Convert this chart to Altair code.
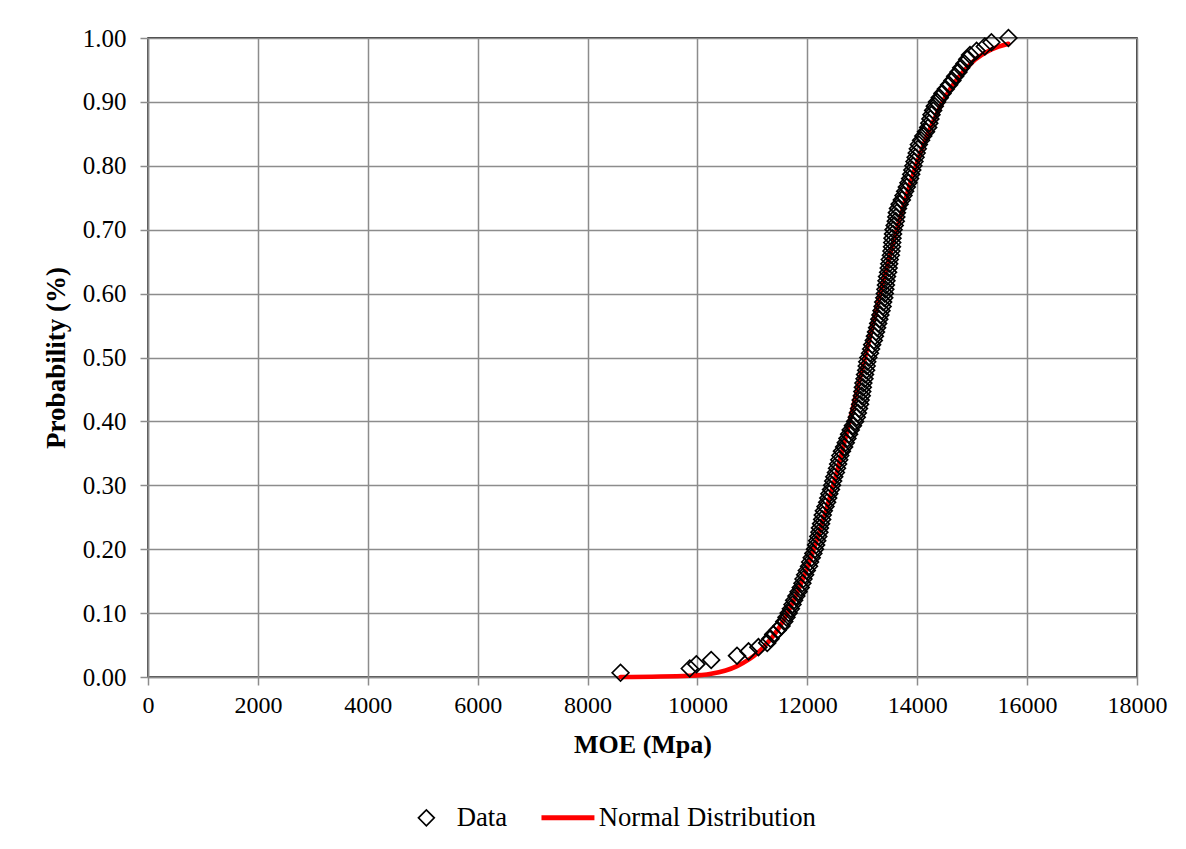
import altair as alt
import pandas as pd

# Empirical data points: MOE (Mpa) and cumulative probability (rank i/150)
moe_values = [
    8600, 9860, 9980, 10250, 10720, 10930, 11110, 11270, 11330, 11380,
    11460, 11530, 11580, 11620, 11660, 11700, 11730, 11760, 11800, 11840,
    11880, 11910, 11930, 11960, 11990, 12030, 12050, 12080, 12110, 12140,
    12160, 12180, 12200, 12220, 12230, 12250, 12270, 12280, 12300, 12330,
    12360, 12380, 12400, 12430, 12450, 12470, 12490, 12520, 12540, 12560,
    12580, 12600, 12630, 12670, 12700, 12730, 12760, 12790, 12830, 12870,
    12900, 12920, 12940, 12960, 12970, 12990, 13000, 13010, 13020, 13040,
    13050, 13070, 13080, 13090, 13110, 13140, 13160, 13180, 13210, 13230,
    13250, 13270, 13290, 13310, 13330, 13350, 13370, 13380, 13400, 13410,
    13420, 13430, 13440, 13450, 13470, 13480, 13490, 13500, 13520, 13530,
    13540, 13545, 13550, 13560, 13570, 13590, 13610, 13620, 13630, 13650,
    13680, 13720, 13750, 13780, 13810, 13840, 13870, 13890, 13910, 13930,
    13950, 13970, 13990, 14010, 14030, 14070, 14110, 14160, 14200, 14220,
    14240, 14260, 14290, 14320, 14360, 14410, 14460, 14520, 14580, 14640,
    14690, 14750, 14800, 14860, 14910, 14960, 15080, 15230, 15350, 15660,
]
ranks = list(range(1, 151))
n_points = 150

# Fitted normal distribution curve
norm_moe = [8600, 9860, 10250, 10720, 11110, 11500, 12000, 12500, 13000,
            13500, 14000, 14500, 15000, 15350, 15660]
norm_prob = [0.000, 0.002, 0.005, 0.017, 0.039, 0.079, 0.171, 0.309, 0.482,
             0.659, 0.806, 0.906, 0.962, 0.982, 0.991]

x_ticks = [0, 2000, 4000, 6000, 8000, 10000, 12000, 14000, 16000, 18000]
y_ticks = [0.0, 0.1, 0.2, 0.3, 0.4, 0.5, 0.6, 0.7, 0.8, 0.9, 1.0]
series_names = ["Data", "Normal Distribution"]

data_df = pd.DataFrame({
    "MOE": moe_values,
    "P": [r / n_points for r in ranks],
    "series": ["Data"] * len(moe_values),
})
norm_df = pd.DataFrame({"MOE": norm_moe, "P": norm_prob})

FONT = "Liberation Serif"

x_enc = alt.X(
    "MOE:Q",
    scale=alt.Scale(domain=[0, 18000], nice=False, zero=False),
    axis=alt.Axis(values=x_ticks, format="d", title="MOE (Mpa)",
                  labelFlush=False, labelFontSize=24),
)
y_enc = alt.Y(
    "P:Q",
    scale=alt.Scale(domain=[0, 1], nice=False),
    axis=alt.Axis(values=y_ticks, format=".2f", title="Probability (%)",
                  labelFlush=False, labelFontSize=25),
)

line = alt.Chart(norm_df).mark_line(
    color="#ff0000", strokeWidth=4.5, strokeCap="round", interpolate="monotone"
).encode(x=x_enc, y=y_enc)

points = alt.Chart(data_df).mark_point(filled=False, opacity=1).encode(
    x=x_enc,
    y=y_enc,
    shape=alt.Shape(
        "series:N",
        scale=alt.Scale(domain=series_names,
                        range=["diamond", "M-3.4,0L3.3,0"]),
        legend=alt.Legend(title=None),
    ),
    stroke=alt.Stroke(
        "series:N",
        scale=alt.Scale(domain=series_names, range=["#000000", "#ff0000"]),
        legend=alt.Legend(title=None),
    ),
    strokeWidth=alt.StrokeWidth(
        "series:N",
        scale=alt.Scale(domain=series_names, range=[1.7, 5]),
        legend=alt.Legend(title=None),
    ),
    size=alt.value(280),
)

chart = alt.layer(line, points).properties(
    width=989,
    height=639,
    autosize=alt.AutoSizeParams(type="none"),
    padding={"left": 148, "top": 38, "right": 49, "bottom": 172},
).configure_view(
    stroke="#000000", strokeWidth=1.5
).configure_axis(
    labelFont=FONT,
    labelColor="#000000",
    titleFont=FONT,
    titleFontSize=26,
    titleFontWeight="bold",
    titleColor="#000000",
    gridColor="#8c8c8c",
    gridWidth=1.5,
    gridOpacity=1,
    domainColor="#8c8c8c",
    domainWidth=1.5,
    tickColor="#8c8c8c",
    tickWidth=1.5,
    tickSize=8,
).configure_axisX(
    labelPadding=8, titlePadding=14
).configure_axisY(
    labelPadding=14, titlePadding=12, titleFontSize=27
).configure_legend(
    orient="none",
    legendX=265,
    legendY=766,
    direction="horizontal",
    labelFont=FONT,
    labelFontSize=26.7,
    labelColor="#000000",
    labelLimit=0,
    symbolSize=250,
    labelOffset=17,
    columnPadding=23,
    padding=0,
)

chart.save("out.html", embed_options={"renderer": "svg", "actions": False})
